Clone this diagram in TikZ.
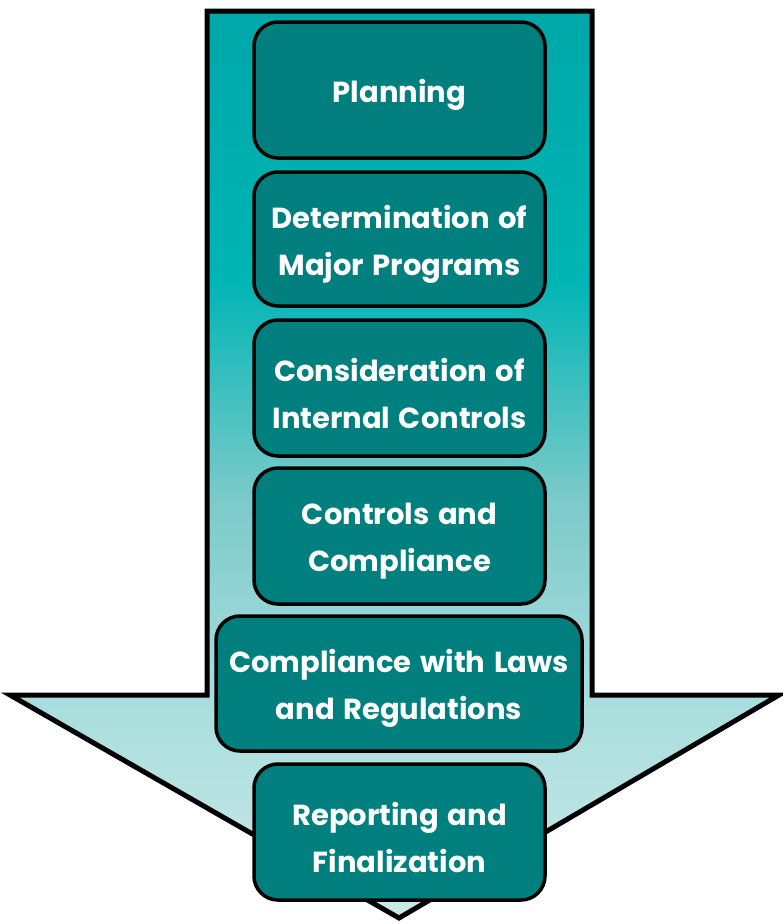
\documentclass[tikz,border=0pt]{standalone}
\usepackage{fontspec}
\setmainfont{Poppins}[WordSpace=1.4]
\definecolor{boxfill}{HTML}{007F7F}
\definecolor{ca}{HTML}{00A8A8}
\definecolor{cb}{HTML}{00B5B5}
\definecolor{cc}{HTML}{7CCACA}
\definecolor{cd}{HTML}{A9DDDD}
\definecolor{ce}{HTML}{CBE9E9}
\pgfdeclareverticalshading{arrowshade}{100bp}{color(0bp)=(ce); color(25bp)=(ce); color(37.1bp)=(cd); color(48.1bp)=(cc); color(60.2bp)=(cb); color(75bp)=(ca); color(100bp)=(ca)}
\tikzset{
  stepbox/.style={draw=black, line width=3.5pt, fill=boxfill, rounded corners=24pt, inner sep=0pt},
  steptext/.style={text=white, font=\fontsize{29}{47}\selectfont\bfseries, align=center, inner sep=0pt},
}
\begin{document}
\begin{tikzpicture}[x=1pt,y=-1pt]
\useasboundingbox (0,0) rectangle (783,924);
\draw[line width=5pt, shading=arrowshade, miter limit=20]
  (207,11) -- (592,11) -- (592,695) -- (779,695) -- (399,918) -- (10,695) -- (207,695) -- cycle;
\node[stepbox, minimum width=291pt, minimum height=136pt] (p1) at (399.5,90) {};
\node[stepbox, minimum width=291pt, minimum height=134pt] (p2) at (399.5,239) {};
\node[stepbox, minimum width=291pt, minimum height=136pt] (p3) at (399.5,388) {};
\node[stepbox, minimum width=291pt, minimum height=136pt] (p4) at (399.5,536) {};
\node[stepbox, minimum width=366pt, minimum height=135pt] (p5) at (399,683.5) {};
\node[stepbox, minimum width=291pt, minimum height=136pt] (p6) at (399.5,832) {};
\node[steptext] (t1) at ([yshift=-5pt]p1.center) {Planning};
\node[steptext] (t2) at ([yshift=-5pt]p2.center) {Determination of\\Major Programs};
\node[steptext] (t3) at ([yshift=-5pt]p3.center) {Consideration of\\Internal Controls};
\node[steptext] (t4) at ([yshift=-5pt]p4.center) {Controls and\\Compliance};
\node[steptext] (t5) at ([yshift=-5pt]p5.center) {Compliance with Laws\\and Regulations};
\node[steptext] (t6) at ([yshift=-5pt]p6.center) {Reporting and\\Finalization};
\end{tikzpicture}
\end{document}
